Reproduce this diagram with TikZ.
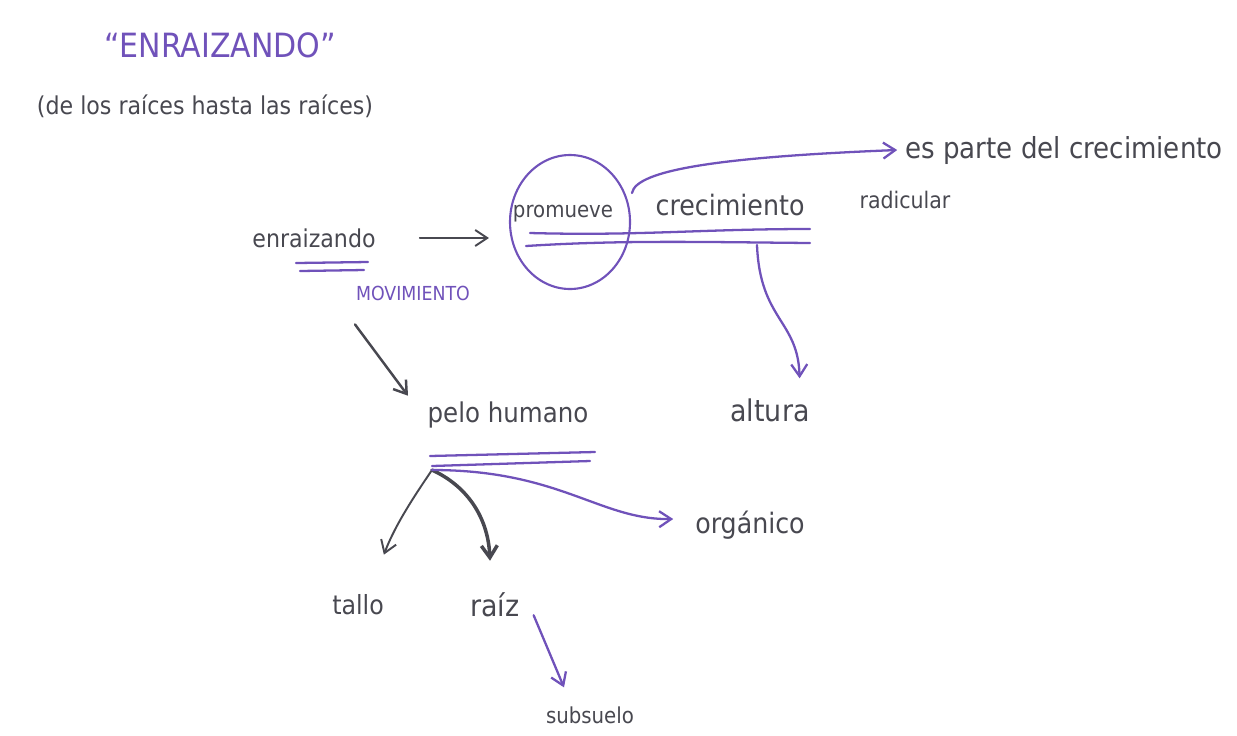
\documentclass[tikz,border=0pt]{standalone}
\usepackage{fontspec}
\setmainfont{DejaVu Sans Condensed}
\usetikzlibrary{arrows.meta,shapes.geometric,calc}
\definecolor{penpurple}{RGB}{112,82,186}
\definecolor{penink}{RGB}{72,72,80}
\begin{document}
\begin{tikzpicture}[x=0.02cm, y=-0.02cm, >={Straight Barb[length=2.4mm,width=3.2mm]},
  word/.style={text=penink, inner sep=1pt, font=\fontsize{15}{18}\selectfont},
  tag/.style={text=penpurple, inner sep=1pt, font=\fontsize{11}{13}\selectfont},
  inkline/.style={draw=penink, line width=1.1pt, line cap=round},
  penline/.style={draw=penpurple, line width=1.3pt, line cap=round}]
\useasboundingbox (0,0) rectangle (1237,735);
% titles
\node[word, text=penpurple, font=\fontsize{19}{22}\selectfont] (title) at (220,45) {“ENRAIZANDO”};
\node[word, font=\fontsize{14}{17}\selectfont] (sub) at (205,106) {(de los raíces hasta las raíces)};
% main words
\node[word, font=\fontsize{14}{17}\selectfont] (en) at (314,238) {enraizando};
\node[tag] (mov) at (413,293) {MOVIMIENTO};
\node[word, font=\fontsize{12.5}{15}\selectfont] (pr) at (563,214) {promueve};
\node[draw=penpurple, line width=1.2pt, ellipse, minimum width=120*0.02cm, minimum height=134*0.02cm] (circ) at (570,222) {};
\node[word, font=\fontsize{16}{19}\selectfont] (cre) at (730,205) {crecimiento};
\node[word, font=\fontsize{13}{16}\selectfont] (rad) at (905,200) {radicular};
\node[word, font=\fontsize{16.5}{20}\selectfont] (es) at (1064,150) {es parte del crecimiento};
\node[word, font=\fontsize{17}{20}\selectfont] (alt) at (770,410) {altura};
\node[word, font=\fontsize{15.5}{18}\selectfont] (pelo) at (508,415) {pelo humano};
\node[word, font=\fontsize{16}{19}\selectfont] (org) at (750,525) {orgánico};
\node[word, font=\fontsize{15}{18}\selectfont] (tal) at (358,605) {tallo};
\node[word, font=\fontsize{17}{20}\selectfont] (raiz) at (495,605) {raíz};
\node[word, font=\fontsize{12.5}{15}\selectfont] (sub2) at (590,715) {subsuelo};
% underlines
\coordinate (u1) at (530,233); \coordinate (u2) at (810,229);
\coordinate (u3) at (526,246); \coordinate (u4) at (810,243);
\draw[penline] (u1) .. controls (640,236) and (700,229) .. (u2);
\draw[penline] (u3) .. controls (620,240) and (700,242) .. (u4);
\draw[penline] (296,263) -- (368,262);
\draw[penline] (300,271) -- (364,270);
\coordinate (p1) at (430,456); \coordinate (p2) at (595,452);
\coordinate (p3) at (432,466); \coordinate (p4) at (590,461);
\draw[penline] (p1) -- (p2); \draw[penline] (p3) -- (p4);
% connectors
\draw[->, inkline] ([xshift=42*0.02cm]en.east) -- ([xshift=-20*0.02cm]en.east -| circ.west);
\coordinate (esfrom) at (632,193);
\draw[->, penline] (esfrom) .. controls (636,170) and (720,157) .. ([xshift=-6*0.02cm]es.west);
\coordinate (altfrom) at (757,245);
\draw[->, penline] (altfrom) .. controls (760,320) and (798,320) .. ([xshift=-12*0.02cm, yshift=18*0.02cm]alt.north east);
\draw[->, inkline, line width=1.4pt] ([xshift=-58*0.02cm, yshift=-22*0.02cm]mov.south) -- ([xshift=-100*0.02cm, yshift=4*0.02cm]pelo.north);
\coordinate (root) at (432,470);
\draw[->, inkline] (root) .. controls (415,495) and (395,525) .. ([xshift=-2*0.02cm, yshift=38*0.02cm]tal.north east);
\draw[->, inkline, line width=2pt] (root) .. controls (465,485) and (488,515) .. ([xshift=-5*0.02cm, yshift=30*0.02cm]raiz.north);
\draw[->, penline] (root) .. controls (560,470) and (600,520) .. ([xshift=-20*0.02cm, yshift=6*0.02cm]org.west);
\draw[->, penline] ([xshift=12*0.02cm, yshift=4*0.02cm]raiz.south east) -- ([xshift=-26*0.02cm, yshift=17*0.02cm]sub2.north);
\end{tikzpicture}
\end{document}
